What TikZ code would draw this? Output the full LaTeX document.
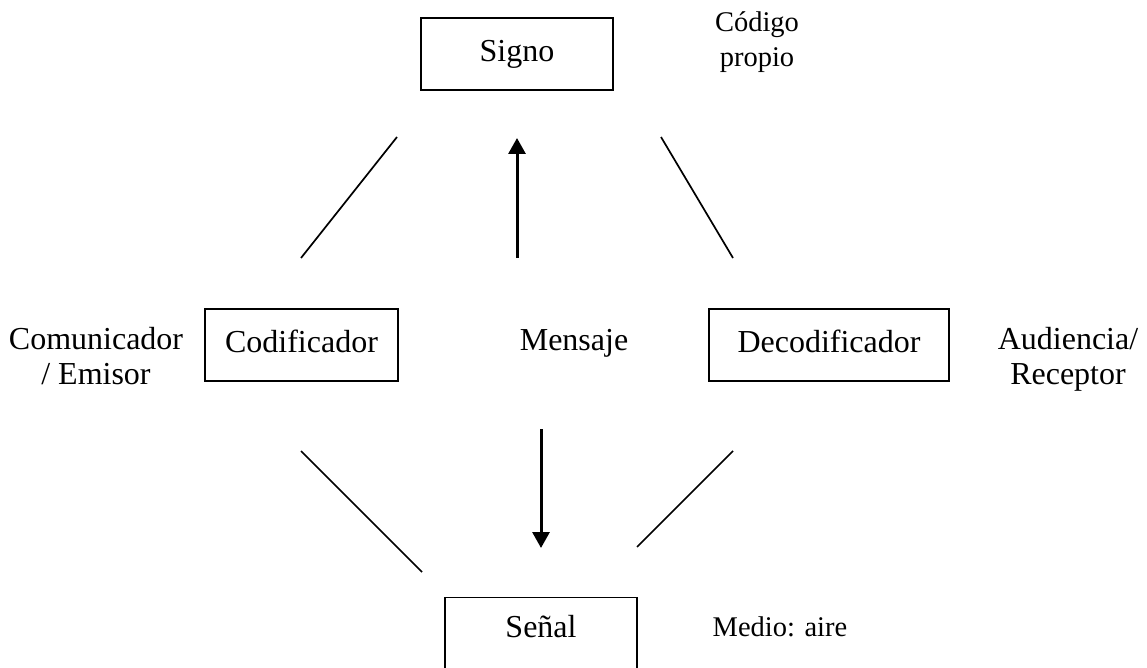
\documentclass[tikz,border=0pt]{standalone}
\usepackage{fontspec}
\setmainfont{Liberation Serif}
\usetikzlibrary{arrows.meta}
\begin{document}
\begin{tikzpicture}[x=1pt,y=-1pt,
  box/.style={draw, line width=1.3pt, minimum width=#1, minimum height=72pt, inner sep=0pt,
    text height=22pt, text depth=7pt, font=\fontsize{32}{35}\selectfont},
  txt/.style={font=\fontsize{32}{35}\selectfont, align=center, inner sep=0pt},
  small/.style={font=\fontsize{28.5}{35}\selectfont, align=center, inner sep=0pt},
  ln/.style={line width=1.7pt},
  arr/.style={line width=3pt, -{Triangle[length=16pt,width=17pt]}}]
\path[use as bounding box] (0,0) rectangle (1147,668);
\clip (0,0) rectangle (1147,668);

\node[box=192pt] (signo) at (517,54) {Signo};
\node[box=193pt] (cod) at (301.5,345) {Codificador};
\node[box=240pt] (dec) at (829,345) {Decodificador};
\node[draw, line width=1.3pt, minimum width=192pt, anchor=north, inner sep=0pt,
  text height=40pt, text depth=100pt, font=\fontsize{32}{35}\selectfont] (senal) at (541,597) {Señal};

\node[small] (codigo) at (757,42) {Código\\propio};
\node[txt] (emisor) at (96,356) {Comunicador\\/ Emisor};
\node[txt] (receptor) at (1068,359) {Audiencia/\\Receptor};
\node[txt, anchor=base] (mensaje) at (574,350) {Mensaje};
\node[small, anchor=base] (medio) at (780,636) {Medio: aire};

\coordinate (lt1) at (301,258); \coordinate (lt2) at (397,137);
\coordinate (rt1) at (661,137); \coordinate (rt2) at (733,258);
\coordinate (lb1) at (301,451); \coordinate (lb2) at (422,572);
\coordinate (rb1) at (733,451); \coordinate (rb2) at (637,547);
\coordinate (au1) at (517,258); \coordinate (au2) at (517,138);
\coordinate (ad1) at (541,429); \coordinate (ad2) at (541,548);

\draw[ln] (lt1) -- (lt2);
\draw[ln] (rt1) -- (rt2);
\draw[ln] (lb1) -- (lb2);
\draw[ln] (rb1) -- (rb2);
\draw[arr] (au1) -- (au2);
\draw[arr] (ad1) -- (ad2);
\end{tikzpicture}
\end{document}
